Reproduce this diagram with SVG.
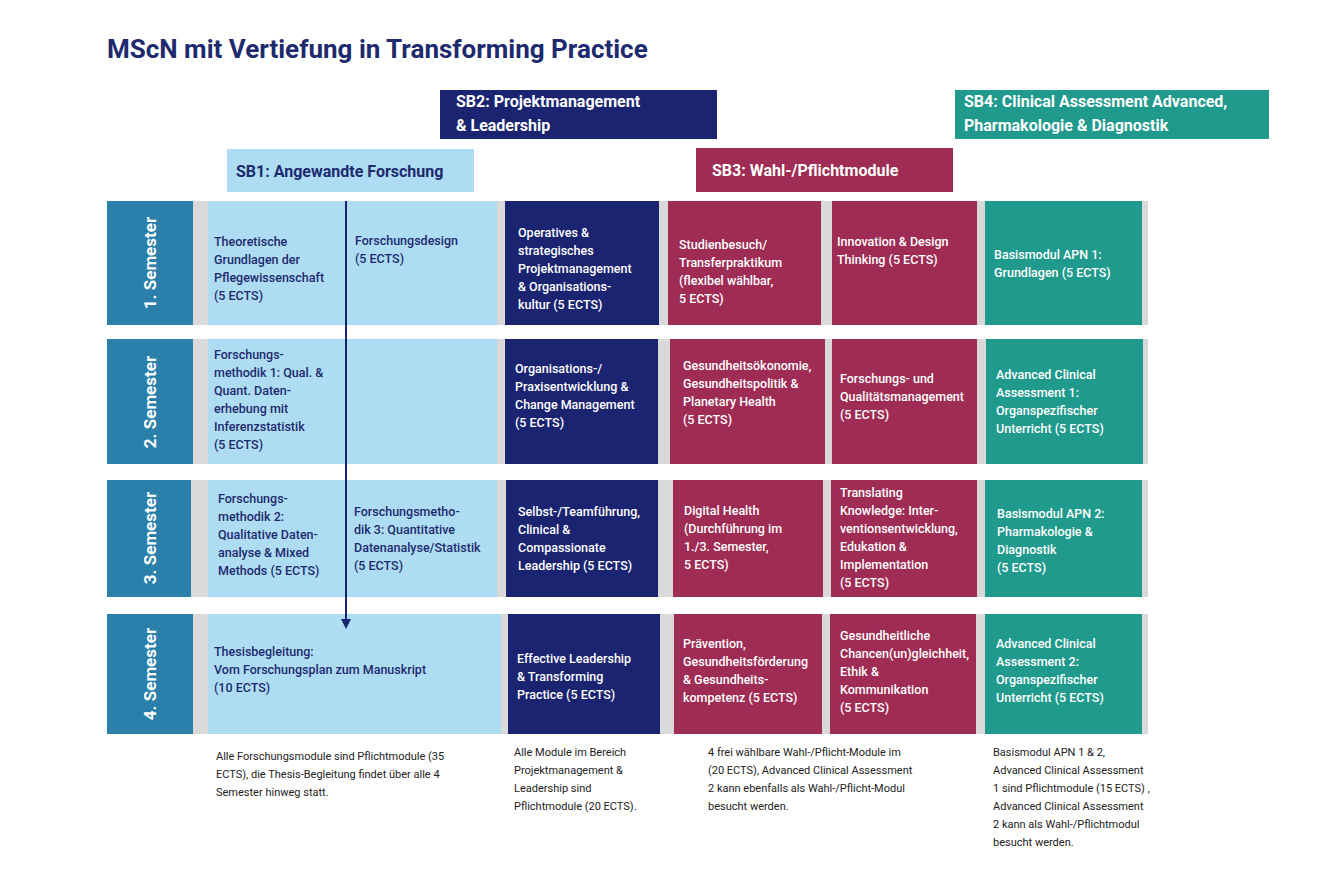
<svg xmlns="http://www.w3.org/2000/svg" width="1320" height="882" viewBox="0 0 1320 882">
<style>
text{font-family:Roboto,"Open Sans","Liberation Sans",sans-serif}
.t{font-size:12.5px;font-weight:500}
.w{fill:#fff}.n{fill:#1d2a6e}
.sem{font-size:17px;font-weight:700;fill:#fff}
.h{font-size:16px;font-weight:700}
.f{font-size:11px;fill:#222}
.g{fill:#d9d9d9}.lb{fill:#aedcf2}.nv{fill:#1b2470}.cr{fill:#9e2c54}.tl{fill:#1f9a8c}.sb{fill:#2a80ab}
</style>
<defs><marker id="ah" markerWidth="10" markerHeight="10" refX="5" refY="5" orient="auto" markerUnits="userSpaceOnUse"><path d="M0,0 L10,5 L0,10 z" fill="#1b2470"/></marker></defs>
<rect width="1320" height="882" fill="#fff"/>
<text x="107" y="58" font-size="26" font-weight="700" fill="#1d2a6e">MScN mit Vertiefung in Transforming Practice</text>
<g id="sb2"><rect x="440" y="90" width="277" height="49" class="nv"/><text class="h w" x="456" y="107">SB2: Projektmanagement</text><text class="h w" x="456" y="131">&amp; Leadership</text></g>
<g id="sb4"><rect x="955" y="90" width="314" height="49" class="tl"/><text class="h w" x="964" y="107">SB4: Clinical Assessment Advanced,</text><text class="h w" x="964" y="131">Pharmakologie &amp; Diagnostik</text></g>
<g id="sb1"><rect x="227" y="149" width="247" height="43" class="lb"/><text class="h n" x="236" y="177">SB1: Angewandte Forschung</text></g>
<g id="sb3"><rect x="696" y="148" width="257" height="44" class="cr"/><text class="h w" x="712" y="176">SB3: Wahl-/Pflichtmodule</text></g>

<g id="bands">
<rect x="107" y="201" width="1041" height="124" class="g"/>
<rect x="107" y="339" width="1041" height="125" class="g"/>
<rect x="107" y="480" width="1041" height="117" class="g"/>
<rect x="107" y="614" width="1041" height="120" class="g"/>
</g>
<g id="sem1"><rect x="107" y="201" width="86" height="124" class="sb"/><text class="sem" transform="translate(156,263) rotate(-90)" text-anchor="middle">1. Semester</text></g>
<g id="sem2"><rect x="107" y="339" width="86" height="125" class="sb"/><text class="sem" transform="translate(156,402) rotate(-90)" text-anchor="middle">2. Semester</text></g>
<g id="sem3"><rect x="107" y="480" width="84" height="117" class="sb"/><text class="sem" transform="translate(156,538) rotate(-90)" text-anchor="middle">3. Semester</text></g>
<g id="sem4"><rect x="107" y="614" width="86" height="120" class="sb"/><text class="sem" transform="translate(156,674) rotate(-90)" text-anchor="middle">4. Semester</text></g>

<g id="r1">
<rect x="208" y="201" width="289" height="124" class="lb"/>
<text class="t n" x="214" y="246">Theoretische</text><text class="t n" x="214" y="264">Grundlagen der</text><text class="t n" x="214" y="282">Pflegewissenschaft</text><text class="t n" x="214" y="300">(5 ECTS)</text>
<text class="t n" x="355" y="245">Forschungsdesign</text><text class="t n" x="355" y="263">(5 ECTS)</text>
<rect x="505" y="201" width="154" height="124" class="nv"/>
<text class="t w" x="518" y="237">Operatives &amp;</text><text class="t w" x="518" y="255">strategisches</text><text class="t w" x="518" y="273">Projektmanagement</text><text class="t w" x="518" y="291">&amp; Organisations-</text><text class="t w" x="518" y="309">kultur (5 ECTS)</text>
<rect x="668" y="201" width="153" height="124" class="cr"/>
<text class="t w" x="679" y="249">Studienbesuch/</text><text class="t w" x="679" y="267">Transferpraktikum</text><text class="t w" x="679" y="285">(flexibel wählbar,</text><text class="t w" x="679" y="303">5 ECTS)</text>
<rect x="832" y="201" width="145" height="124" class="cr"/>
<text class="t w" x="837" y="246">Innovation &amp; Design</text><text class="t w" x="837" y="264">Thinking (5 ECTS)</text>
<rect x="985" y="201" width="157" height="124" class="tl"/>
<text class="t w" x="994" y="259">Basismodul APN 1:</text><text class="t w" x="994" y="277">Grundlagen (5 ECTS)</text>
</g>
<g id="r2">
<rect x="208" y="339" width="289" height="125" class="lb"/>
<text class="t n" x="214" y="359">Forschungs-</text><text class="t n" x="214" y="377">methodik 1: Qual. &amp;</text><text class="t n" x="214" y="395">Quant. Daten-</text><text class="t n" x="214" y="413">erhebung mit</text><text class="t n" x="214" y="431">Inferenzstatistik</text><text class="t n" x="214" y="449">(5 ECTS)</text>
<rect x="505" y="339" width="153" height="125" class="nv"/>
<text class="t w" x="515" y="373">Organisations-/</text><text class="t w" x="515" y="391">Praxisentwicklung &amp;</text><text class="t w" x="515" y="409">Change Management</text><text class="t w" x="515" y="427">(5 ECTS)</text>
<rect x="670" y="339" width="155" height="125" class="cr"/>
<text class="t w" x="683" y="370">Gesundheitsökonomie,</text><text class="t w" x="683" y="388">Gesundheitspolitik &amp;</text><text class="t w" x="683" y="406">Planetary Health</text><text class="t w" x="683" y="424">(5 ECTS)</text>
<rect x="832" y="339" width="145" height="125" class="cr"/>
<text class="t w" x="840" y="383">Forschungs- und</text><text class="t w" x="840" y="401">Qualitätsmanagement</text><text class="t w" x="840" y="419">(5 ECTS)</text>
<rect x="986" y="339" width="157" height="125" class="tl"/>
<text class="t w" x="996" y="379">Advanced Clinical</text><text class="t w" x="996" y="397">Assessment 1:</text><text class="t w" x="996" y="415">Organspezifischer</text><text class="t w" x="996" y="433">Unterricht (5 ECTS)</text>
</g>
<g id="r3">
<rect x="208" y="480" width="289" height="117" class="lb"/>
<text class="t n" x="218" y="503">Forschungs-</text><text class="t n" x="218" y="521">methodik 2:</text><text class="t n" x="218" y="539">Qualitative Daten-</text><text class="t n" x="218" y="557">analyse &amp; Mixed</text><text class="t n" x="218" y="575">Methods (5 ECTS)</text>
<text class="t n" x="354" y="516">Forschungsmetho-</text><text class="t n" x="354" y="534">dik 3: Quantitative</text><text class="t n" x="354" y="552">Datenanalyse/Statistik</text><text class="t n" x="354" y="570">(5 ECTS)</text>
<rect x="506" y="480" width="152" height="117" class="nv"/>
<text class="t w" x="518" y="516">Selbst-/Teamführung,</text><text class="t w" x="518" y="534">Clinical &amp;</text><text class="t w" x="518" y="552">Compassionate</text><text class="t w" x="518" y="570">Leadership (5 ECTS)</text>
<rect x="673" y="480" width="150" height="117" class="cr"/>
<text class="t w" x="684" y="515">Digital Health</text><text class="t w" x="684" y="533">(Durchführung im</text><text class="t w" x="684" y="551">1./3. Semester,</text><text class="t w" x="684" y="569">5 ECTS)</text>
<rect x="831" y="480" width="146" height="117" class="cr"/>
<text class="t w" x="840" y="497">Translating</text><text class="t w" x="840" y="515">Knowledge: Inter-</text><text class="t w" x="840" y="533">ventionsentwicklung,</text><text class="t w" x="840" y="551">Edukation &amp;</text><text class="t w" x="840" y="569">Implementation</text><text class="t w" x="840" y="587">(5 ECTS)</text>
<rect x="985" y="480" width="157" height="117" class="tl"/>
<text class="t w" x="997" y="518">Basismodul APN 2:</text><text class="t w" x="997" y="536">Pharmakologie &amp;</text><text class="t w" x="997" y="554">Diagnostik</text><text class="t w" x="997" y="572">(5 ECTS)</text>
</g>
<g id="r4">
<rect x="208" y="614" width="293" height="120" class="lb"/>
<text class="t n" x="214" y="656">Thesisbegleitung:</text><text class="t n" x="214" y="674">Vom Forschungsplan zum Manuskript</text><text class="t n" x="214" y="692">(10 ECTS)</text>
<rect x="508" y="614" width="152" height="120" class="nv"/>
<text class="t w" x="517" y="663">Effective Leadership</text><text class="t w" x="517" y="681">&amp; Transforming</text><text class="t w" x="517" y="699">Practice (5 ECTS)</text>
<rect x="674" y="614" width="148" height="120" class="cr"/>
<text class="t w" x="683" y="648">Prävention,</text><text class="t w" x="683" y="666">Gesundheitsförderung</text><text class="t w" x="683" y="684">&amp; Gesundheits-</text><text class="t w" x="683" y="702">kompetenz (5 ECTS)</text>
<rect x="830" y="614" width="146" height="120" class="cr"/>
<text class="t w" x="840" y="640">Gesundheitliche</text><text class="t w" x="840" y="658">Chancen(un)gleichheit,</text><text class="t w" x="840" y="676">Ethik &amp;</text><text class="t w" x="840" y="694">Kommunikation</text><text class="t w" x="840" y="712">(5 ECTS)</text>
<rect x="985" y="614" width="157" height="120" class="tl"/>
<text class="t w" x="996" y="648">Advanced Clinical</text><text class="t w" x="996" y="666">Assessment 2:</text><text class="t w" x="996" y="684">Organspezifischer</text><text class="t w" x="996" y="702">Unterricht (5 ECTS)</text>
</g>
<g id="connectors"><line x1="346" y1="201" x2="346" y2="624" stroke="#1b2470" stroke-width="2" marker-end="url(#ah)"/></g>
<g id="notes">
<text class="f" x="216" y="760">Alle Forschungsmodule sind Pflichtmodule (35</text><text class="f" x="216" y="778">ECTS),  die Thesis-Begleitung findet über alle 4</text><text class="f" x="216" y="796">Semester hinweg statt.</text>
<text class="f" x="514" y="756">Alle Module im Bereich</text><text class="f" x="514" y="774">Projektmanagement &amp;</text><text class="f" x="514" y="792">Leadership sind</text><text class="f" x="514" y="810">Pflichtmodule (20 ECTS).</text>
<text class="f" x="708" y="756">4 frei wählbare Wahl-/Pflicht-Module im</text><text class="f" x="708" y="774">(20 ECTS), Advanced Clinical Assessment</text><text class="f" x="708" y="792">2 kann ebenfalls als Wahl-/Pflicht-Modul</text><text class="f" x="708" y="810">besucht werden.</text>
<text class="f" x="993" y="756">Basismodul APN 1 &amp; 2,</text><text class="f" x="993" y="774">Advanced Clinical Assessment</text><text class="f" x="993" y="792">1 sind Pflichtmodule (15 ECTS) ,</text><text class="f" x="993" y="810">Advanced Clinical Assessment</text><text class="f" x="993" y="828">2 kann als Wahl-/Pflichtmodul</text><text class="f" x="993" y="846">besucht werden.</text>
</g>
</svg>
